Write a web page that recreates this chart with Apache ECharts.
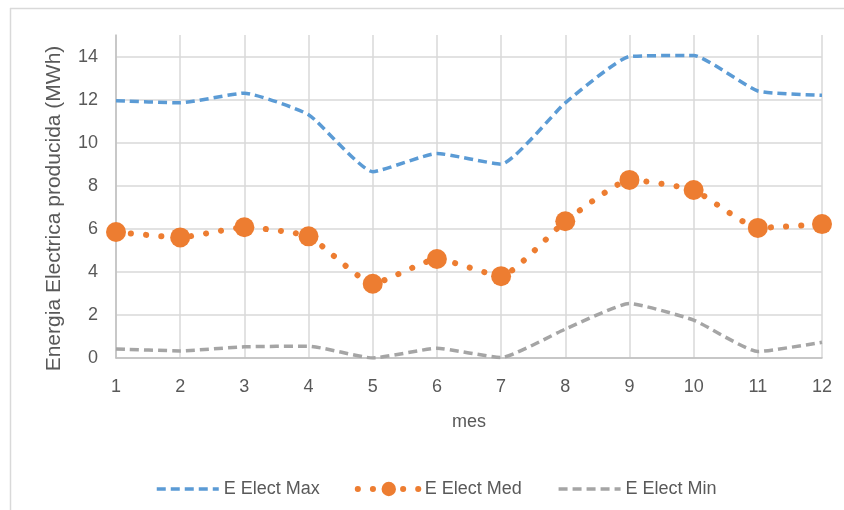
<!DOCTYPE html>
<html>
<head>
<meta charset="utf-8">
<script src="https://cdn.jsdelivr.net/npm/echarts@6/dist/echarts.min.js"></script>
<style>
html,body{margin:0;padding:0;background:#fff;}
#chart{width:844px;height:510px;}
</style>
</head>
<body>
<div id="chart"></div>
<script>
var months = [1,2,3,4,5,6,7,8,9,10,11,12];
var yTicks = [0,2,4,6,8,10,12,14];
var seriesNames = ['E Elect Max','E Elect Med','E Elect Min'];
var eMax = [11.95,11.85,12.3,11.3,8.65,9.5,9.0,11.85,14.0,14.05,12.4,12.2];
var eMed = [5.85,5.6,6.07,5.65,3.45,4.6,3.8,6.35,8.27,7.8,6.04,6.22];
var eMin = [0.42,0.33,0.52,0.55,0.0,0.45,0.02,1.34,2.53,1.76,0.3,0.73];

function pairs(vals){ return months.map(function(m,i){ return [m, vals[i]]; }); }

var FONT = '"Liberation Sans", Arial, sans-serif';
var TXT = '#595959';

var chart = echarts.init(document.getElementById('chart'), null, {renderer:'canvas'});
chart.setOption({
  animation:false,
  backgroundColor:'#ffffff',
  textStyle:{fontFamily:FONT, color:TXT},
  graphic:[
    {type:'line', shape:{x1:10,y1:8.5,x2:844,y2:8.5}, style:{stroke:'#D9D9D9', lineWidth:1.5}, silent:true},
    {type:'line', shape:{x1:10.5,y1:8,x2:10.5,y2:510}, style:{stroke:'#D9D9D9', lineWidth:1.5}, silent:true}
  ],
  grid:{left:116, right:22, top:35, bottom:152, containLabel:false},
  legend:{
    left:150, top:475, itemWidth:62, itemHeight:18, itemGap:35,
    textStyle:{fontFamily:FONT, fontSize:18, color:TXT},
    data:[
      {name:seriesNames[0], lineStyle:{width:3.5}, itemStyle:{opacity:0, borderWidth:0}},
      {name:seriesNames[1], lineStyle:{width:6}},
      {name:seriesNames[2], lineStyle:{width:3.5}, itemStyle:{opacity:0, borderWidth:0}}
    ]
  },
  xAxis:{
    type:'value', min:1, max:12, interval:1,
    name:'mes', nameLocation:'middle', nameGap:55,
    nameTextStyle:{fontFamily:FONT, fontSize:18, color:TXT},
    axisLine:{show:true, lineStyle:{color:'#BFBFBF', width:1.5}},
    axisTick:{show:false},
    axisLabel:{fontFamily:FONT, fontSize:18, color:TXT, margin:20},
    splitLine:{show:true, lineStyle:{color:'#D9D9D9', width:1.5}}
  },
  yAxis:{
    type:'value', min:0, max:15, interval:2,
    name:'Energia Electrica producida (MWh)', nameLocation:'middle', nameGap:51,
    nameTextStyle:{fontFamily:FONT, fontSize:21, color:TXT, padding:[0,24,0,0]},
    axisLine:{show:true, lineStyle:{color:'#BFBFBF', width:1.5}},
    axisTick:{show:false},
    axisLabel:{fontFamily:FONT, fontSize:18, color:TXT, margin:18, showMaxLabel:false,
      formatter:function(v){ return yTicks.indexOf(v) >= 0 ? String(v) : ''; }},
    splitLine:{show:true, showMaxLine:false, lineStyle:{color:'#D9D9D9', width:1.5}}
  },
  series:[
    {
      name:seriesNames[0], type:'line', data:pairs(eMax), smooth:0.15,
      symbol:'none', showSymbol:false, color:'#5B9BD5',
      lineStyle:{color:'#5B9BD5', width:3.5, type:[9,5]}
    },
    {
      name:seriesNames[1], type:'line', data:pairs(eMed), smooth:0.15,
      symbol:'circle', symbolSize:20, showSymbol:true, color:'#ED7D31',
      itemStyle:{color:'#ED7D31'},
      lineStyle:{color:'#ED7D31', width:6, type:[0.1,15], cap:'round'}
    },
    {
      name:seriesNames[2], type:'line', data:pairs(eMin), smooth:0.15,
      symbol:'none', showSymbol:false, color:'#A5A5A5',
      lineStyle:{color:'#A5A5A5', width:3.5, type:[9,5]}
    }
  ]
});
</script>
</body>
</html>
